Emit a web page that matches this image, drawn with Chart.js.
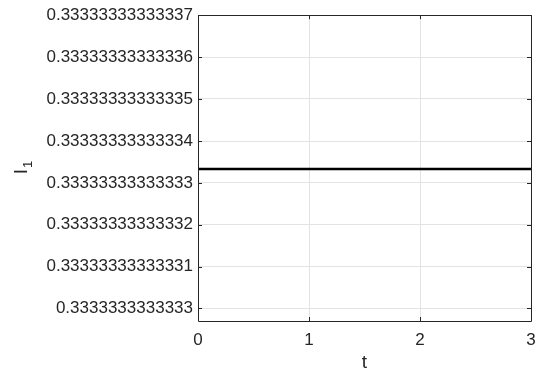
<!DOCTYPE html>
<html>
<head>
<meta charset="utf-8">
<script src="https://cdn.jsdelivr.net/npm/chart.js@4/dist/chart.umd.min.js"></script>
<style>
html,body{margin:0;padding:0;background:#fff;}
#wrap{width:537px;height:371px;}
</style>
</head>
<body>
<div id="wrap"><canvas id="c" width="537" height="371"></canvas></div>
<script>
// ---- data ----
const tValues = [0, 0.25, 0.5, 0.75, 1, 1.25, 1.5, 1.75, 2, 2.25, 2.5, 2.75, 3];
const i1Values = [0.3333333333333333, 0.3333333333333333, 0.3333333333333333, 0.3333333333333333,
                  0.3333333333333333, 0.3333333333333333, 0.3333333333333333, 0.3333333333333333,
                  0.3333333333333333, 0.3333333333333333, 0.3333333333333333, 0.3333333333333333,
                  0.3333333333333333];
const xTickValues = [0, 1, 2, 3];
const yTickValues = [0.33333333333330, 0.33333333333331, 0.33333333333332, 0.33333333333333,
                     0.33333333333334, 0.33333333333335, 0.33333333333336, 0.33333333333337];
const yTickLabels = ['0.3333333333333', '0.33333333333331', '0.33333333333332', '0.33333333333333',
                     '0.33333333333334', '0.33333333333335', '0.33333333333336', '0.33333333333337'];
const yMinValue = 0.333333333333297;
const yMaxValue = 0.33333333333337;

// The values differ only in the 14th decimal, so they are plotted relative to a base in units of 1e-14.
const yBase = yTickValues[0];
const yUnit = 1e-14;
const toUnits = v => (v - yBase) / yUnit;

const FONT = '"Liberation Sans", Arial, Helvetica, sans-serif';
const AXIS = '#262626';

const innerTicks = {
  id: 'innerTicks',
  afterDraw(chart) {
    const {ctx, chartArea: a, scales: {x, y}} = chart;
    ctx.save();
    ctx.strokeStyle = AXIS;
    ctx.lineWidth = 1;
    ctx.beginPath();
    y.ticks.forEach(t => {
      const py = Math.round(y.getPixelForValue(t.value)) + 0.5;
      ctx.moveTo(a.left, py); ctx.lineTo(a.left + 4, py);
      ctx.moveTo(a.right, py); ctx.lineTo(a.right - 4, py);
    });
    x.ticks.forEach(t => {
      const px = Math.round(x.getPixelForValue(t.value)) + 0.5;
      ctx.moveTo(px, a.bottom); ctx.lineTo(px, a.bottom - 4);
      ctx.moveTo(px, a.top); ctx.lineTo(px, a.top + 4);
    });
    ctx.stroke();
    // box
    ctx.beginPath();
    ctx.rect(Math.round(a.left) + 0.5, Math.round(a.top) + 0.5, Math.round(a.right - a.left), Math.round(a.bottom - a.top));
    ctx.stroke();
    // y label I with subscript 1
    ctx.fillStyle = AXIS;
    ctx.translate(27, (a.top + a.bottom) / 2);
    ctx.rotate(-Math.PI / 2);
    ctx.textBaseline = 'alphabetic';
    ctx.textAlign = 'left';
    ctx.font = '19px ' + FONT;
    const wI = ctx.measureText('I').width;
    ctx.font = '13px ' + FONT;
    const w1 = ctx.measureText('1').width;
    const start = -(wI + w1) / 2;
    ctx.font = '19px ' + FONT;
    ctx.fillText('I', start, 0);
    ctx.font = '13px ' + FONT;
    ctx.fillText('1', start + wI + 1, 5);
    ctx.restore();
  }
};

new Chart(document.getElementById('c'), {
  type: 'scatter',
  data: {
    datasets: [{
      data: tValues.map((t, i) => ({x: t, y: toUnits(i1Values[i])})),
      showLine: true,
      borderColor: '#000000',
      borderWidth: 2.5,
      pointRadius: 0,
      tension: 0
    }]
  },
  options: {
    responsive: false,
    animation: false,
    events: [],
    layout: {padding: {top: 15, right: 0, left: 0, bottom: 0}},
    plugins: {legend: {display: false}, tooltip: {enabled: false}},
    scales: {
      x: {
        type: 'linear',
        min: 0, max: 3,
        afterBuildTicks: s => { s.ticks = xTickValues.map(v => ({value: v})); },
        afterFit: s => { s.height = 50; s.paddingRight = 6; },
        grid: {color: '#e3e3e3', drawTicks: false},
        border: {display: false},
        ticks: {color: AXIS, font: {family: FONT, size: 17}, padding: 9, maxRotation: 0,
                callback: v => String(v)},
        title: {display: true, text: 't', color: AXIS, font: {family: FONT, size: 19}, padding: {top: 4, bottom: -3}}
      },
      y: {
        type: 'linear',
        min: toUnits(yMinValue), max: toUnits(yMaxValue),
        afterBuildTicks: s => { s.ticks = yTickValues.map(v => ({value: toUnits(v)})); },
        afterFit: s => { s.width = 198; },
        grid: {color: '#e3e3e3', drawTicks: false},
        border: {display: false},
        ticks: {color: AXIS, font: {family: FONT, size: 17}, padding: 5,
                callback: (v, i) => yTickLabels[i]}
      }
    }
  },
  plugins: [innerTicks]
});
</script>
</body>
</html>
